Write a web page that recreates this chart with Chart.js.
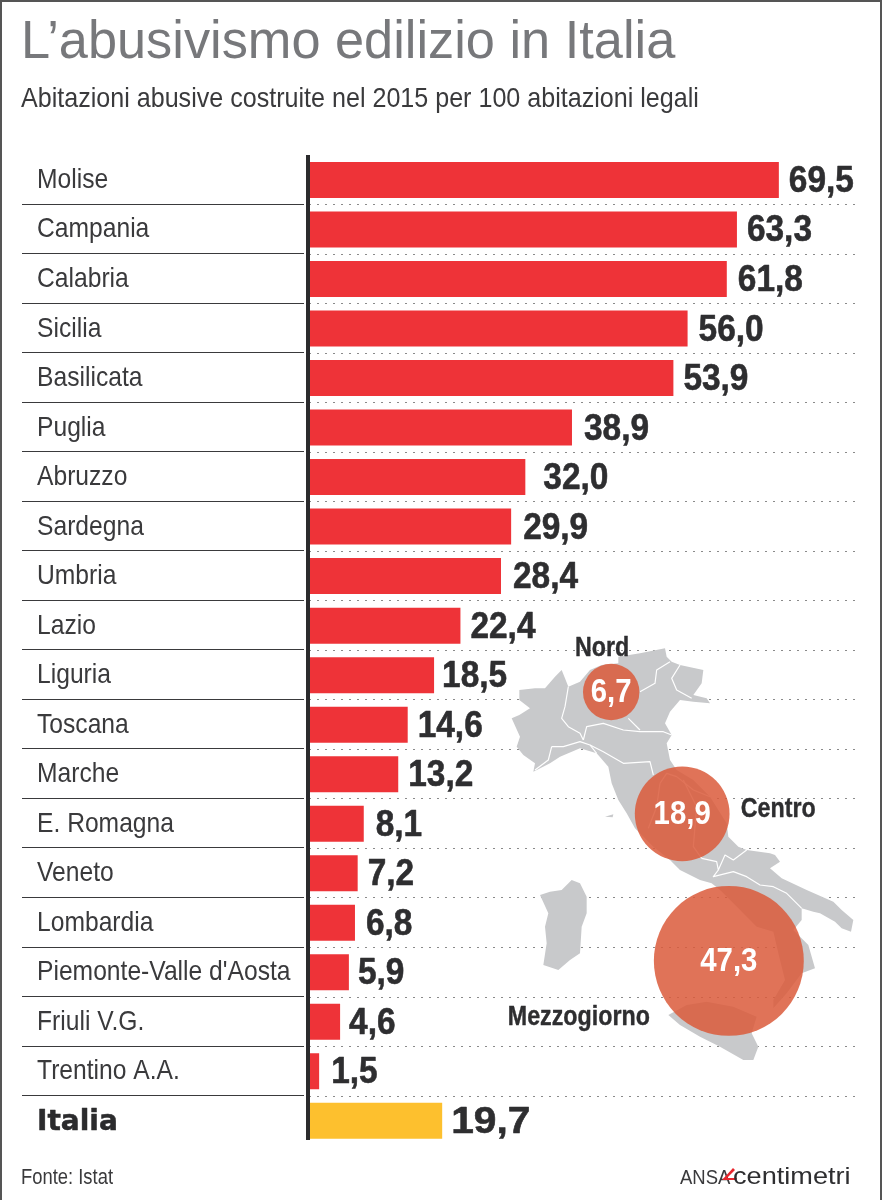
<!DOCTYPE html>
<html><head><meta charset="utf-8">
<style>html,body{margin:0;padding:0;background:#fff}canvas{display:block}</style>
<script src="https://cdn.jsdelivr.net/npm/chart.js@4"></script>
</head><body><canvas id="c" width="883" height="1200"></canvas>
<script>
const categories=["Molise","Campania","Calabria","Sicilia","Basilicata","Puglia","Abruzzo","Sardegna","Umbria","Lazio","Liguria","Toscana","Marche","E. Romagna","Veneto","Lombardia","Piemonte-Valle d'Aosta","Friuli V.G.","Trentino A.A.","Italia"];
const values=[69.5,63.3,61.8,56.0,53.9,38.9,32.0,29.9,28.4,22.4,18.5,14.6,13.2,8.1,7.2,6.8,5.9,4.6,1.5,19.7];
const labelGap=[10,10,11,11,10,12,18,12,12,10,8,10,10,12,10,11,9,9,12,9];
const macroAreas=["Nord","Centro","Mezzogiorno"];
const macroValues=[6.7,18.9,47.3];
const macroAxisX=[44.7,55.2,62.1];
const macroAxisRow=[10.84,13.30,16.27];
const macroLabelDX=[-9,96,-150];
const macroLabelDY=[-46,-7,54];
const title="L’abusivismo edilizio in Italia";
const subtitle="Abitazioni abusive costruite nel 2015 per 100 abitazioni legali";
const source="Fonte: Istat";
const fmt=v=>v.toFixed(1).replace('.',',');
const SANS='"Liberation Sans",sans-serif';
const INK='#2e2e30';

const mapMain=[[95,295],[118,285],[150,265],[118,240],[118,210],[165,205],[195,205],[225,170],[245,150],[255,175],[265,200],[300,185],[330,150],[365,135],[415,130],[415,110],[480,100],[555,85],[560,110],[575,125],[600,135],[670,150],[665,190],[640,225],[680,235],[690,250],[640,245],[600,240],[570,275],[555,310],[575,345],[560,370],[570,420],[590,450],[640,480],[690,530],[740,610],[745,650],[775,680],[800,690],[870,700],[885,705],[900,725],[870,745],[905,775],[980,810],[1060,845],[1085,870],[1120,900],[1113,935],[1085,925],[1065,905],[1020,880],[1000,875],[965,865],[965,900],[940,930],[985,975],[1005,1045],[965,1060],[920,1120],[880,1165],[880,1140],[915,1080],[895,1000],[880,935],[830,920],[760,850],[720,810],[695,790],[660,780],[600,750],[570,720],[520,680],[465,625],[440,580],[415,540],[395,490],[385,440],[350,400],[300,385],[240,410],[210,430],[160,455],[165,430],[130,405],[110,380],[120,350]];
const mapSicily=[[565,1185],[620,1155],[680,1145],[760,1160],[830,1190],[815,1240],[835,1280],[820,1320],[790,1320],[720,1280],[660,1250],[600,1215]];
const mapSardinia=[[180,825],[210,815],[245,810],[275,780],[300,790],[320,830],[320,880],[305,920],[300,1000],[270,1020],[235,1050],[190,1035],[200,970],[195,920],[205,880]];
const mapElba=[[375,590],[400,583],[398,592]];
const mapBorders=[
[[265,200],[255,260],[245,295],[265,320],[300,340],[310,360]],
[[310,360],[320,320],[370,310],[430,330],[480,335],[550,335],[575,345]],
[[445,295],[480,330]],
[[480,215],[525,190],[530,150],[570,125]],
[[600,135],[575,175],[590,210],[635,235]],
[[215,380],[205,420],[165,450]],
[[215,380],[250,380],[300,365],[330,375],[350,400]],
[[330,375],[370,395],[430,430],[510,425],[520,465]],
[[540,490],[560,460],[590,470],[640,510],[690,530]],
[[540,490],[530,560],[505,625]],
[[610,480],[650,560],[640,680],[665,715]],
[[665,715],[710,725],[715,750],[735,705],[760,720],[800,690]],
[[715,750],[700,770],[760,755],[800,770],[840,795],[880,800],[920,820],[960,860],[965,865]]
];
function poly(ctx,pts){ctx.beginPath();pts.forEach((p,i)=>i?ctx.lineTo(p[0],p[1]):ctx.moveTo(p[0],p[1]));}
function stretched(ctx,text,x,y,sx,align,weight){
  ctx.save();ctx.translate(x,y);ctx.scale(sx,1);ctx.textAlign=align||'left';
  ctx.fillText(text,0,0);
  if(weight){ctx.strokeStyle=ctx.fillStyle;ctx.lineWidth=weight;ctx.lineJoin='round';ctx.strokeText(text,0,0);}
  ctx.restore();
}

const artwork={
  id:'artwork',
  beforeDraw(chart){
    const ctx=chart.ctx;
    ctx.save();
    ctx.fillStyle='#fff';ctx.fillRect(0,0,883,1200);
    ctx.strokeStyle='#555';ctx.lineWidth=2;
    ctx.beginPath();ctx.moveTo(1,1200);ctx.lineTo(1,1);ctx.lineTo(881,1);ctx.lineTo(881,1200);ctx.stroke();
    ctx.textBaseline='alphabetic';
    ctx.fillStyle='#77787b';ctx.font='53px '+SANS;
    stretched(ctx,title,21,58,0.987);
    ctx.fillStyle='#3a3a3c';ctx.font='28px '+SANS;
    stretched(ctx,subtitle,21,107,0.896);
    ctx.font='22px '+SANS;
    stretched(ctx,source,21,1184,0.836);
    ctx.restore();
  },
  beforeDatasetsDraw(chart){
    const ctx=chart.ctx,y=chart.scales.y;
    ctx.save();
    ctx.strokeStyle='#3a3a3c';ctx.lineWidth=1;
    for(let i=1;i<categories.length;i++){
      const py=Math.round((y.getPixelForTick(i)+y.getPixelForTick(i-1))/2)-0.5;
      ctx.beginPath();ctx.moveTo(22,py);ctx.lineTo(304,py);ctx.stroke();
    }
    ctx.textBaseline='alphabetic';
    y.getLabels().forEach((lab,i)=>{
      const py=y.getPixelForTick(i)+8;
      if(lab==='Italia'){ctx.fillStyle='#2b2b2d';ctx.font='bold 28px "DejaVu Sans"';stretched(ctx,lab,37,py+1,1,'left',0.5);}
      else{ctx.fillStyle='#3a3a3c';ctx.font='28px '+SANS;stretched(ctx,lab,37,py,0.88);}
    });
    ctx.translate(480,620);ctx.scale(1/3,1/3);
    ctx.fillStyle='#c8c9cb';
    [mapMain,mapSicily,mapSardinia,mapElba].forEach(s=>{poly(ctx,s);ctx.closePath();ctx.fill();});
    ctx.strokeStyle='#fff';ctx.lineWidth=3.5;ctx.lineJoin='round';
    mapBorders.forEach(s=>{poly(ctx,s);ctx.stroke();});
    ctx.restore();
  },
  afterDatasetsDraw(chart){
    const ctx=chart.ctx;
    ctx.save();
    ctx.fillStyle='#2b2b2d';ctx.fillRect(306,155,4,985);
    ctx.textBaseline='alphabetic';
    const bars=chart.getDatasetMeta(1).data;
    ctx.font='bold 37px '+SANS;ctx.fillStyle=INK;
    bars.forEach((b,i)=>{
      stretched(ctx,fmt(values[i]),b.x+labelGap[i],b.y+12,categories[i]==='Italia'?1.1:0.903,'left',0.6);
    });
    const bub=chart.getDatasetMeta(0).data;
    bub.forEach((b,i)=>{
      ctx.fillStyle='#fff';ctx.font='bold 33px '+SANS;
      stretched(ctx,fmt(macroValues[i]),b.x,b.y+10,0.89,'center');
      ctx.fillStyle=INK;ctx.font='bold 28px '+SANS;
      stretched(ctx,macroAreas[i],b.x+macroLabelDX[i],b.y+macroLabelDY[i]+10,0.83,'center',0.4);
    });
    ctx.fillStyle='#3a3a3c';ctx.font='21px '+SANS;
    stretched(ctx,'ANSA',680,1184,0.88);
    ctx.fillStyle='#e8262d';
    poly(ctx,[[735,1170],[727,1178],[737,1178],[736,1180],[722,1180],[733,1168]]);ctx.closePath();ctx.fill();
    ctx.fillStyle='#2e2e30';ctx.font='24px '+SANS;
    stretched(ctx,'centimetri',733,1184,1.13);
    ctx.restore();
  }
};

new Chart(document.getElementById('c'),{
  type:'bar',
  data:{labels:categories,datasets:[
    {type:'bubble',order:0,xAxisID:'x',yAxisID:'mapY',
     data:macroValues.map((v,i)=>({x:macroAxisX[i],y:macroAxisRow[i],r:10.9*Math.sqrt(v)})),
     backgroundColor:'rgba(219,90,59,0.85)',borderWidth:0},
    {type:'bar',order:1,indexAxis:'y',xAxisID:'x',yAxisID:'y',data:values,
     backgroundColor:categories.map(c=>c==='Italia'?'#fdc02e':'#ee3338'),
     borderWidth:0,barPercentage:0.727,categoryPercentage:1}
  ]},
  options:{
    responsive:false,animation:false,devicePixelRatio:1,
    layout:{autoPadding:false,padding:{left:37,top:155.2,bottom:54.4,right:26.4}},
    plugins:{legend:{display:false},tooltip:{enabled:false}},
    events:[],
    scales:{
      x:{type:'linear',axis:'x',position:'bottom',min:0,max:81,offset:false,display:false,grid:{display:false}},
      mapY:{type:'linear',axis:'y',position:'right',min:0,max:20,reverse:true,display:false,grid:{display:false}},
      y:{type:'category',axis:'y',position:'left',offset:true,
         afterFit(s){s.width=272;},
         border:{display:false,dash:[2,6]},
         grid:{offset:true,drawTicks:false,lineWidth:1,
           color:c=>(c.index>=1&&c.index<categories.length)?'#8a8a8a':'rgba(0,0,0,0)'},
         ticks:{display:false,autoSkip:false,padding:0}}
    }
  },
  plugins:[artwork]
});
</script></body></html>
